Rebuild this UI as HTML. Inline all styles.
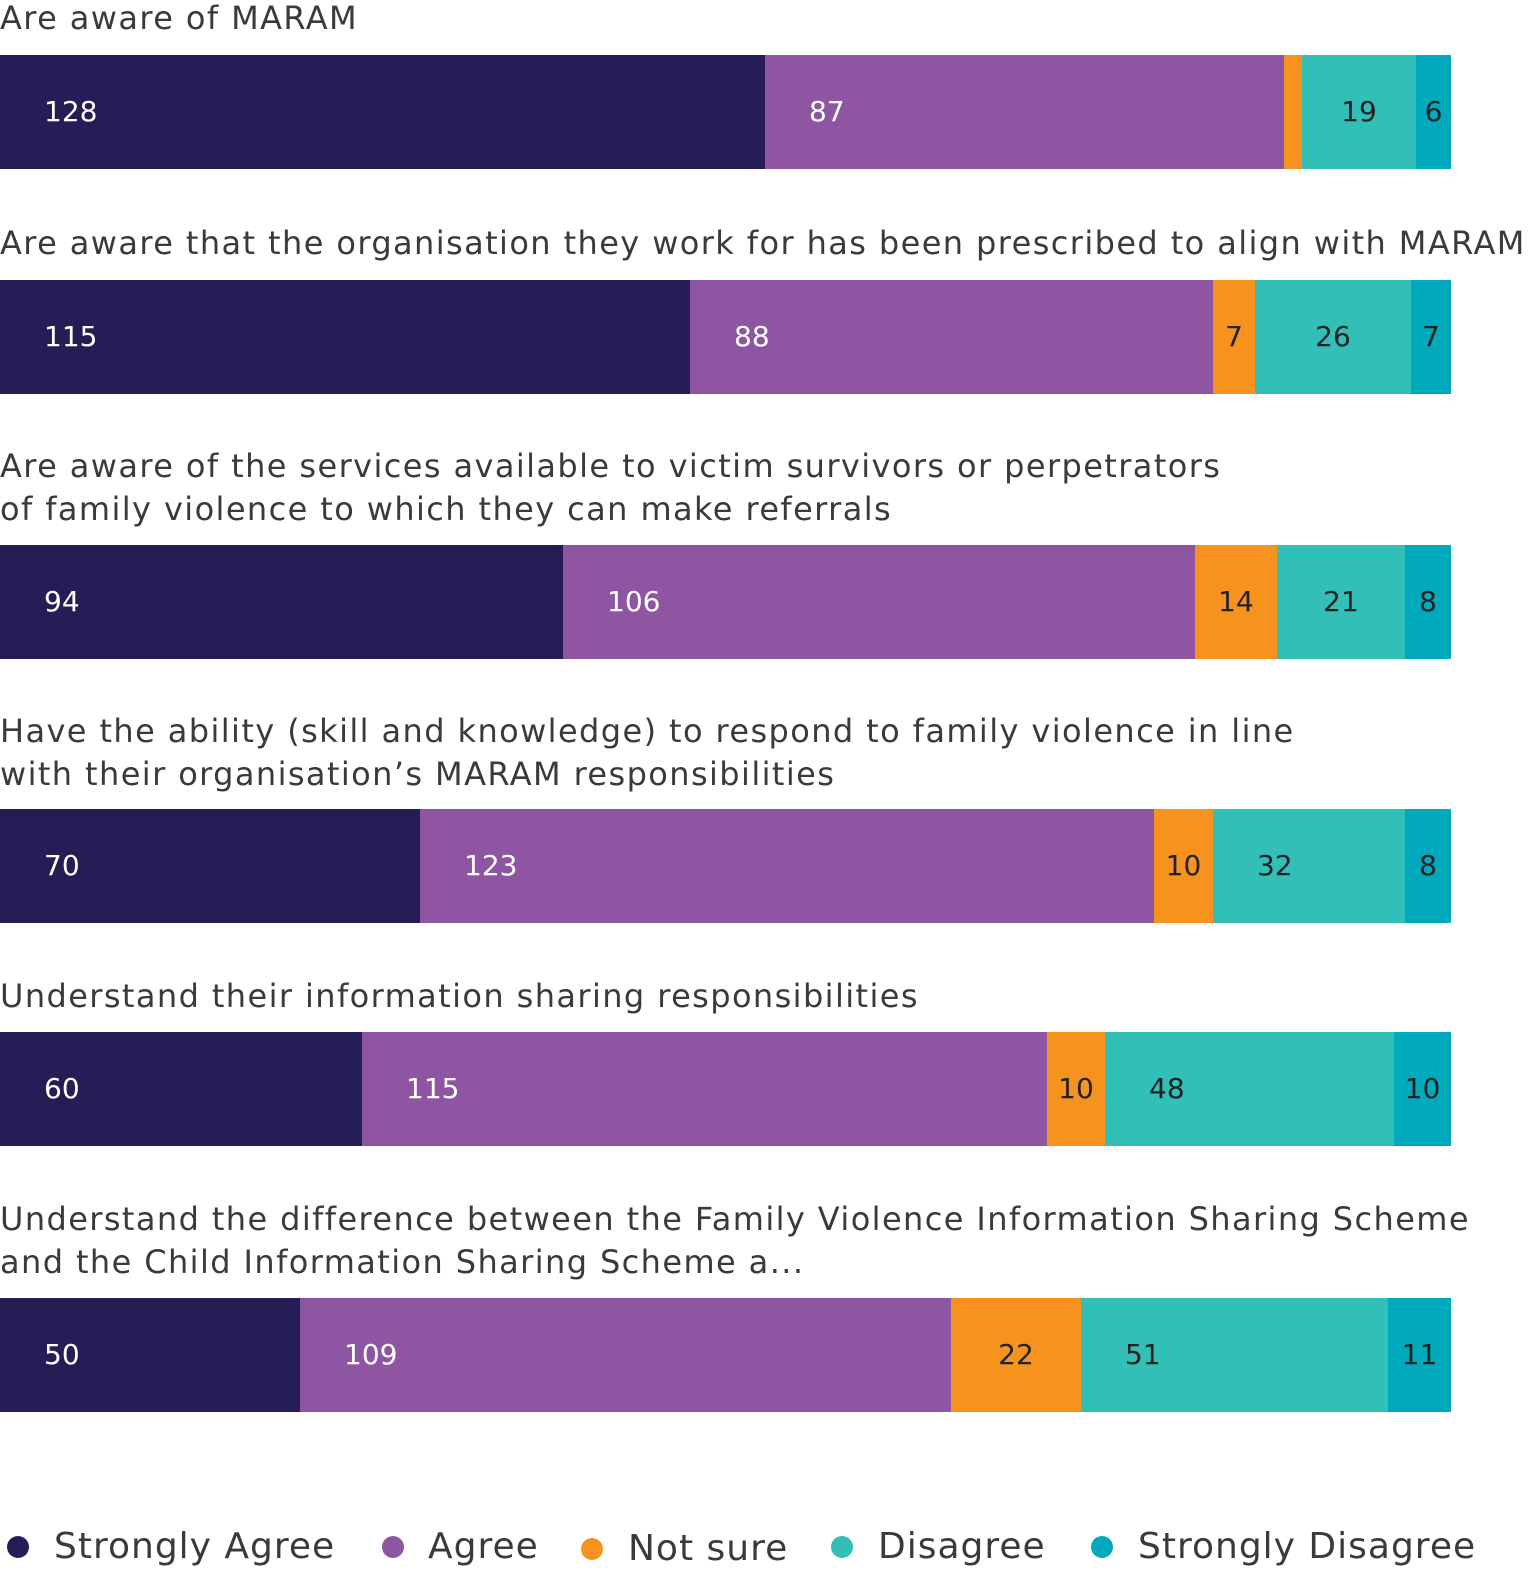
<!DOCTYPE html>
<html><head><meta charset="utf-8"><style>
body{margin:0;width:1536px;height:1577px;background:#fff;position:relative;overflow:hidden;font-family:"DejaVu Sans","Liberation Sans",sans-serif;}
.t{position:absolute;left:0;font-size:32px;color:#3a3a3a;line-height:43px;white-space:nowrap;letter-spacing:1.4px}
.s{position:absolute;height:114px;}
.l{position:absolute;font-size:28px;line-height:114px;white-space:nowrap}
.w{color:#fff}.d{color:#222}
.dot{position:absolute;width:22px;height:22px;border-radius:50%}
.lg{position:absolute;font-size:36px;color:#3a3a3a;line-height:46px;white-space:nowrap;letter-spacing:1px}
</style></head><body>
<div class="t" style="top:-3px">Are aware of MARAM</div>
<div class="t" style="top:222px">Are aware that the organisation they work for has been prescribed to align with MARAM</div>
<div class="t" style="top:445px">Are aware of the services available to victim survivors or perpetrators<br>of family violence to which they can make referrals</div>
<div class="t" style="top:710px">Have the ability (skill and knowledge) to respond to family violence in line<br>with their organisation’s MARAM responsibilities</div>
<div class="t" style="top:975px">Understand their information sharing responsibilities</div>
<div class="t" style="top:1198px">Understand the difference between the Family Violence Information Sharing Scheme<br>and the Child Information Sharing Scheme a...</div>
<div id="bars"></div>
<script>
var C=["#261d56","#8e55a2","#f6921e","#31bfb8","#00a9bc"];
var rows=[[55,[0,765,1284,1302,1416,1451],[128,87,"",19,6]],
[280,[0,690,1213,1255,1411,1451],[115,88,7,26,7]],
[545,[0,563,1195,1277,1405,1451],[94,106,14,21,8]],
[809,[0,420,1154,1213,1405,1451],[70,123,10,32,8]],
[1032,[0,362,1047,1105,1394,1451],[60,115,10,48,10]],
[1298,[0,300,951,1081,1388,1451],[50,109,22,51,11]]];
var h="";
rows.forEach(function(r){var y=r[0],x=r[1],v=r[2];
for(var i=0;i<5;i++){h+='<div class="s" style="top:'+y+'px;left:'+x[i]+'px;width:'+(x[i+1]-x[i])+'px;background:'+C[i]+'"></div>';
if(v[i]!==""){var w=x[i+1]-x[i];var cls=i<2?"w":"d";
if(i<2||w>170){h+='<div class="l '+cls+'" style="top:'+y+'px;left:'+(x[i]+44)+'px">'+v[i]+'</div>';}
else{h+='<div class="l '+cls+'" style="top:'+y+'px;left:'+x[i]+'px;width:'+w+'px;text-align:center">'+v[i]+'</div>';}}}});
document.getElementById("bars").innerHTML=h;
</script>
<div class="dot" style="left:7px;top:1536px;background:#261d56"></div><div class="lg" style="left:54px;top:1524px">Strongly Agree</div>
<div class="dot" style="left:382px;top:1536px;background:#8e55a2"></div><div class="lg" style="left:428px;top:1524px">Agree</div>
<div class="dot" style="left:581px;top:1538px;background:#f6921e"></div><div class="lg" style="left:628px;top:1526px">Not sure</div>
<div class="dot" style="left:831px;top:1536px;background:#31bfb8"></div><div class="lg" style="left:878px;top:1524px">Disagree</div>
<div class="dot" style="left:1091px;top:1536px;background:#00a9bc"></div><div class="lg" style="left:1138px;top:1524px">Strongly Disagree</div>
</body></html>
